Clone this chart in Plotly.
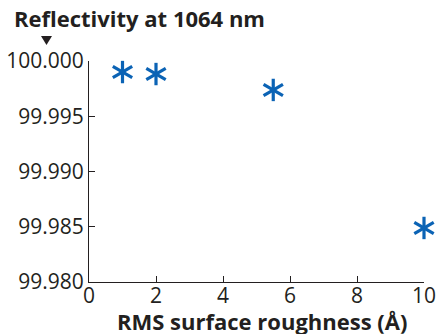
import plotly.graph_objects as go

roughness = [1, 2, 5.5, 10]
reflectivity = [99.9990, 99.99882, 99.99738, 99.98489]
y_ticks = [99.980, 99.985, 99.990, 99.995, 100.000]
y_labels = ["99.980", "99.985", "99.990", "99.995", "100.000"]
x_ticks = [0, 2, 4, 6, 8, 10]

color = "#0b63b5"
fig = go.Figure()
for ang in [0, 60, -60]:
    fig.add_trace(go.Scatter(
        x=roughness, y=reflectivity, mode="markers", cliponaxis=False,
        marker=dict(symbol="line-ns-open", size=16, angle=ang, color=color,
                    line=dict(color=color, width=3.2)),
        showlegend=False, hoverinfo="skip"))

font = "Open Sans"
ink = "#231f20"
W, H = 437, 334
# absolute plot area: left 89, right 424, top 61, bottom 282
l, t = 89, 61
r = W - 424
b = H - 282
pw, ph = W - l - r, H - t - b

def px(x):
    return (x - l) / pw

def py(y):
    return (H - b - y) / ph

tri = "M {:.4f},{:.4f} L {:.4f},{:.4f} L {:.4f},{:.4f} Z".format(
    px(41), py(36), px(52), py(36), px(46.5), py(45))

fig.update_layout(
    width=W, height=H,
    margin=dict(l=l, r=r, t=t, b=b, autoexpand=False),
    paper_bgcolor="white", plot_bgcolor="white",
    font=dict(family=font, size=21, color=ink),
    xaxis=dict(range=[0, 10], tickvals=x_ticks, ticks="inside", ticklen=6,
               tickcolor=ink, showline=True, linecolor=ink, linewidth=1,
               showgrid=False, zeroline=False, tickfont=dict(size=21), automargin=False,
               ticklabelstandoff=-5),
    yaxis=dict(range=[99.980, 100.000], tickvals=y_ticks, ticktext=y_labels,
               ticks="inside", ticklen=6, tickcolor=ink, showline=True,
               linecolor=ink, linewidth=1, showgrid=False, zeroline=False,
               tickfont=dict(size=21), automargin=False),
    shapes=[dict(type="path", xref="paper", yref="paper", path=tri,
                 fillcolor=ink, line=dict(width=0))],
    annotations=[
        dict(text="<b>Reflectivity at 1064 nm</b>", x=px(12), y=py(18), xref="paper", yref="paper",
             showarrow=False, font=dict(size=22), xanchor="left", yanchor="middle"),
        dict(text="<b>RMS surface roughness (Å)</b>", x=px(262), y=py(321), xref="paper", yref="paper",
             showarrow=False, font=dict(size=22), xanchor="center", yanchor="middle"),
    ],
)
fig.write_html("out.html", config={"displayModeBar": False},
               post_script="document.body.style.margin='0';document.body.style.overflow='hidden';")
